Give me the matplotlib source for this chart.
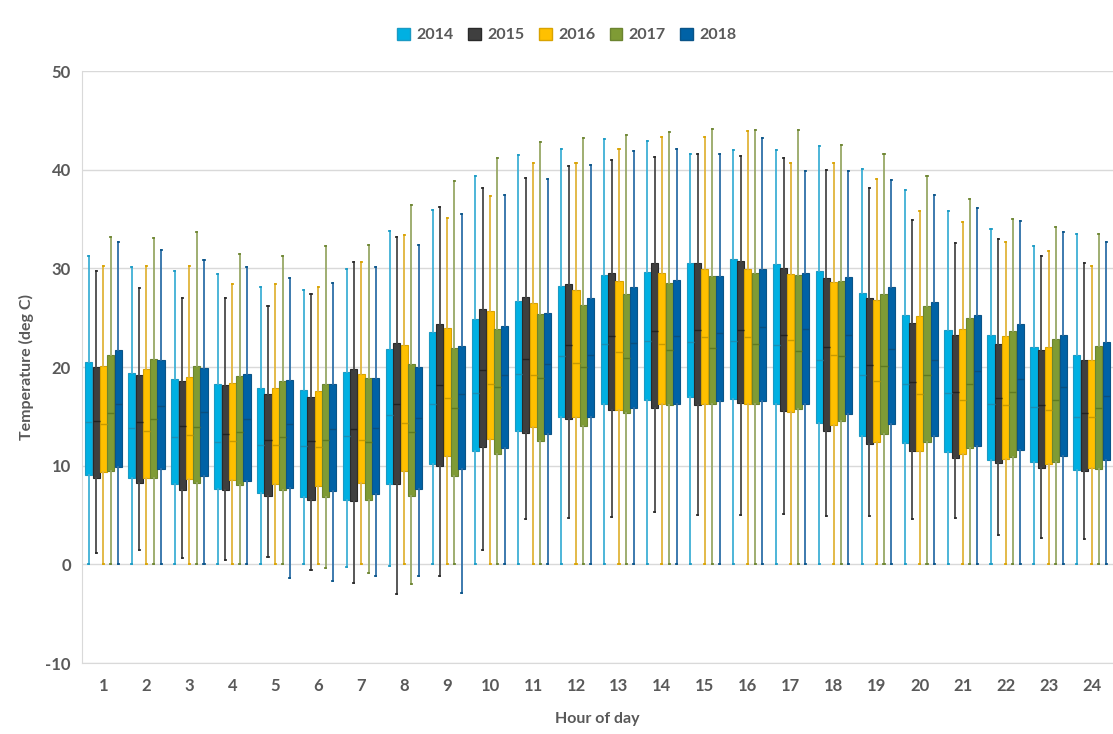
import matplotlib.pyplot as plt
from matplotlib.patches import Patch

# hourly temperature statistics (deg C) per year: min, q1, median, q3, max
hours = list(range(1, 25))
years = ["2014", "2015", "2016", "2017", "2018"]

t_min = {
    "2014": [0, 0, 0, 0, 0, 0, -0.3, -0.2, 0, 0, 0, 0, 0, 0, 0, 0, 0, 0, 0, 0, 0, 0, 0, 0],
    "2015": [1.15, 1.5, 0.6, 0.45, 0.7, -0.6, -1.85, -3.0, -1.2, 1.5, 4.6, 4.7,
             4.8, 5.3, 5.0, 4.95, 5.15, 4.9, 4.9, 4.6, 4.7, 3.0, 2.65, 2.6],
    "2016": [0] * 24,
    "2017": [0, 0, 0, 0, 0, -0.4, -0.9, -2.0, 0, 0, 0, 0, 0, 0, 0, 0, 0, 0, 0, 0, 0, 0, 0, 0],
    "2018": [0, 0, 0, 0, -1.4, -1.7, -1.15, -1.15, -2.9, 0, 0, 0, 0, 0, 0, 0, 0, 0, 0, 0, 0, 0, 0, 0],
}
t_q1 = {
    "2014": [9.06, 8.7, 8.15, 7.6, 7.25, 6.8, 6.55, 8.15, 10.2, 11.5, 13.55, 14.9,
             16.3, 16.7, 17.0, 16.8, 16.2, 14.3, 13.05, 12.3, 11.35, 10.6, 10.4, 9.6],
    "2015": [8.8, 8.26, 7.5, 7.56, 6.9, 6.55, 6.45, 8.1, 10.0, 11.9, 13.3, 14.7,
             15.6, 15.8, 16.1, 16.35, 15.5, 13.55, 12.2, 11.45, 10.8, 10.3, 9.8, 9.45],
    "2016": [9.4, 8.8, 8.6, 8.5, 8.1, 7.9, 8.2, 9.5, 11.0, 12.75, 13.9, 14.9,
             15.65, 16.3, 16.25, 16.3, 15.4, 14.1, 12.4, 11.45, 11.15, 10.7, 10.2, 9.75],
    "2017": [9.5, 8.8, 8.26, 8.0, 7.5, 6.8, 6.55, 6.9, 9.0, 11.15, 12.5, 14.0,
             15.3, 16.1, 16.3, 16.3, 15.75, 14.55, 13.25, 12.4, 11.75, 10.9, 10.35, 9.7],
    "2018": [9.9, 9.65, 8.95, 8.4, 7.7, 7.4, 7.1, 7.6, 9.7, 11.8, 13.25, 14.95,
             15.8, 16.3, 16.6, 16.6, 16.2, 15.2, 14.2, 13.0, 12.0, 11.55, 10.95, 10.6],
}
t_med = {
    "2014": [14.46, 13.8, 12.9, 12.4, 12.1, 12.0, 13.0, 15.1, 16.2, 17.35, 19.3, 21.15,
             22.3, 22.6, 22.5, 22.6, 22.2, 20.7, 19.2, 18.3, 17.4, 16.3, 15.95, 14.95],
    "2015": [14.56, 14.4, 14.0, 13.2, 12.6, 12.5, 13.7, 16.3, 18.15, 19.65, 20.8, 22.2,
             23.1, 23.6, 23.7, 23.8, 23.2, 22.0, 20.2, 18.5, 17.5, 16.9, 16.1, 15.3],
    "2016": [14.2, 13.55, 13.1, 12.5, 12.1, 11.9, 12.6, 14.3, 16.9, 18.3, 19.2, 20.45,
             21.5, 22.3, 23.0, 23.0, 22.7, 21.2, 18.6, 17.25, 16.65, 16.1, 15.6, 14.95],
    "2017": [15.3, 14.7, 13.9, 13.4, 12.9, 12.6, 12.4, 13.4, 15.8, 18.0, 18.85, 20.0,
             20.9, 21.7, 21.95, 22.3, 21.6, 21.15, 20.1, 19.2, 18.25, 17.5, 16.7, 15.85],
    "2018": [16.3, 16.0, 15.4, 14.7, 14.2, 13.7, 13.8, 14.8, 17.25, 19.2, 20.35, 21.2,
             22.4, 23.1, 23.45, 24.1, 23.9, 23.2, 21.85, 20.7, 19.6, 18.75, 18.0, 17.1],
}
t_q3 = {
    "2014": [20.5, 19.4, 18.75, 18.3, 17.9, 17.7, 19.5, 21.8, 23.5, 24.9, 26.65, 28.2,
             29.3, 29.65, 30.55, 30.9, 30.4, 29.75, 27.5, 25.3, 23.8, 23.2, 22.05, 21.2],
    "2015": [20.0, 19.2, 18.6, 18.2, 17.3, 17.0, 19.8, 22.4, 24.4, 25.85, 27.1, 28.4,
             29.55, 30.5, 30.5, 30.7, 30.0, 29.05, 27.0, 24.5, 23.2, 22.3, 21.7, 20.7],
    "2016": [20.1, 19.8, 18.95, 18.4, 17.9, 17.6, 19.3, 22.2, 24.0, 25.7, 26.5, 27.8,
             28.75, 29.55, 29.9, 29.9, 29.4, 28.6, 26.8, 25.2, 23.9, 23.1, 22.0, 20.7],
    "2017": [21.25, 20.8, 20.1, 19.1, 18.6, 18.3, 18.9, 20.3, 21.9, 23.9, 25.4, 26.3,
             27.4, 28.5, 29.2, 29.55, 29.3, 28.7, 27.35, 26.2, 24.95, 23.65, 22.8, 22.1],
    "2018": [21.7, 20.7, 19.9, 19.3, 18.7, 18.3, 18.9, 20.0, 22.1, 24.15, 25.5, 27.0,
             28.1, 28.85, 29.2, 29.9, 29.5, 29.1, 28.1, 26.6, 25.3, 24.35, 23.25, 22.5],
}
t_max = {
    "2014": [31.25, 30.1, 29.7, 29.4, 28.15, 27.8, 29.9, 33.8, 35.9, 39.4, 41.5, 42.1,
             43.1, 42.9, 41.6, 42.0, 42.0, 42.4, 40.1, 37.9, 35.8, 34.0, 32.3, 33.45],
    "2015": [29.7, 28.0, 27.0, 27.0, 26.2, 27.35, 30.6, 33.2, 36.2, 38.15, 39.2, 40.4,
             41.0, 41.3, 41.6, 41.4, 41.15, 40.0, 38.1, 34.9, 32.6, 33.0, 31.2, 30.5],
    "2016": [30.2, 30.2, 30.2, 28.4, 28.4, 28.1, 30.6, 33.4, 35.1, 37.3, 40.7, 40.7,
             42.1, 43.3, 43.3, 43.9, 40.7, 40.7, 39.1, 35.8, 34.7, 32.65, 31.8, 30.2],
    "2017": [33.2, 33.1, 33.7, 31.5, 31.2, 32.3, 32.4, 36.4, 38.9, 41.2, 42.8, 43.2,
             43.55, 43.8, 44.1, 44.0, 44.0, 42.5, 41.6, 39.4, 37.0, 34.95, 34.2, 33.5],
    "2018": [32.7, 31.9, 30.8, 30.1, 29.0, 28.5, 30.1, 32.4, 35.5, 37.45, 39.1, 40.5,
             41.9, 42.1, 41.6, 43.2, 39.9, 39.9, 38.95, 37.45, 36.1, 34.8, 33.65, 32.7],
}

face = {"2014": "#00b0e2", "2015": "#3f3f3f", "2016": "#ffc000",
        "2017": "#7f9b35", "2018": "#0062a6"}
edge = {"2014": "#1a9ac4", "2015": "#2a2a2a", "2016": "#d9a300",
        "2017": "#6b8430", "2018": "#0a5488"}
whisk = {"2014": "#3fb0d6", "2015": "#4a4a4a", "2016": "#e0b43c",
         "2017": "#97a866", "2018": "#2e6fa8"}
median_c = {"2014": "#1b8fb5", "2015": "#222222", "2016": "#c99a00",
            "2017": "#5f7a22", "2018": "#0a4f80"}

grey = "#595959"
plt.rcParams["font.family"] = ["Lato", "DejaVu Sans"]
plt.rcParams["axes.unicode_minus"] = False

fig = plt.figure(figsize=(11.13, 7.34), dpi=100)
ax = fig.add_axes([82 / 1113, 1 - 663 / 734, 1031 / 1113, 592 / 734])

step = 0.17
for k, yr in enumerate(years):
    stats = []
    for i in range(24):
        stats.append({"whislo": t_min[yr][i], "q1": t_q1[yr][i], "med": t_med[yr][i],
                      "q3": t_q3[yr][i], "whishi": t_max[yr][i], "fliers": []})
    pos = [h + (k - 2) * step for h in hours]
    ax.bxp(stats, positions=pos, widths=0.165, patch_artist=True, showfliers=False,
           manage_ticks=False, zorder=3,
           boxprops=dict(facecolor=face[yr], edgecolor=edge[yr], linewidth=0.8),
           medianprops=dict(color=median_c[yr], linewidth=1.0),
           whiskerprops=dict(color=whisk[yr], linewidth=1.3),
           capprops=dict(color=edge[yr], linewidth=1.3),
           capwidths=0.025)

ax.set_xlim(0.5, 24.5)
ax.set_ylim(-10, 50)
ax.set_yticks(range(-10, 51, 10))
ax.set_xticks(hours)
ax.set_xticklabels([str(h) for h in hours])
ax.grid(axis="y", color="#d9d9d9", linewidth=1.0, zorder=0)
ax.set_axisbelow(True)
for side in ["top", "right"]:
    ax.spines[side].set_visible(False)
ax.spines["left"].set_color("#d9d9d9")
ax.spines["bottom"].set_color("#d9d9d9")
ax.tick_params(length=0, colors=grey, labelsize=12)
ax.tick_params(axis="y", pad=8)
ax.tick_params(axis="x", pad=11)
for lab in ax.get_xticklabels() + ax.get_yticklabels():
    lab.set_fontweight("bold")

ax.set_xlabel("Hour of day", color=grey, fontsize=11.5, fontweight="bold", labelpad=13)
ax.set_ylabel("Temperature (deg C)", color=grey, fontsize=11.5, fontweight="bold", labelpad=8)

handles = [Patch(facecolor=face[yr], edgecolor=edge[yr], label=yr) for yr in years]
leg = fig.legend(handles=handles, loc="center", ncol=5, frameon=False,
                 bbox_to_anchor=(567 / 1113, 1 - 35 / 734),
                 handlelength=0.8, handleheight=0.8, handletextpad=0.4,
                 columnspacing=0.9, prop={"weight": "bold", "size": 11.5})
for t in leg.get_texts():
    t.set_color(grey)

fig.savefig("out.png", dpi=100)
